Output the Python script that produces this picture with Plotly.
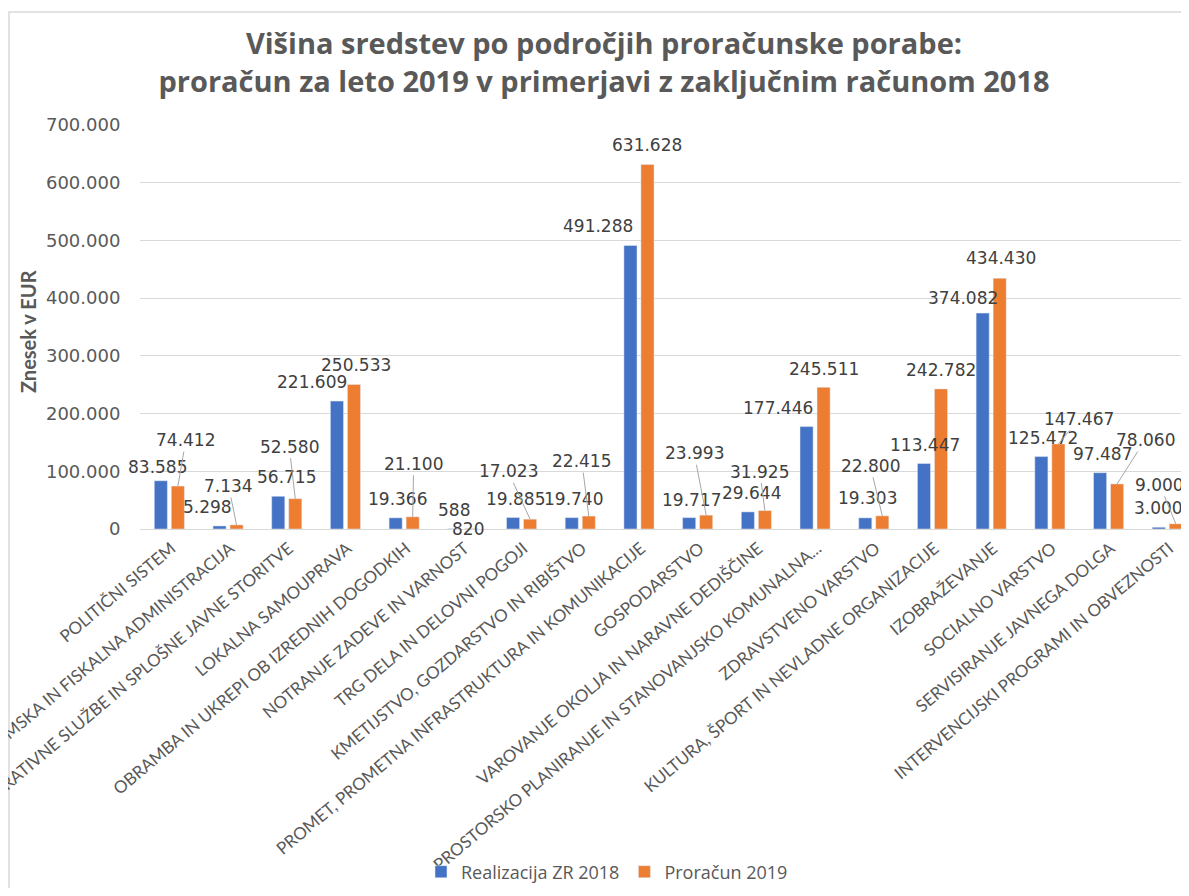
import plotly.graph_objects as go

categories = [
    "POLITIČNI SISTEM",
    "EKONOMSKA IN FISKALNA ADMINISTRACIJA",
    "SKUPNE ADMINISTRATIVNE SLUŽBE IN SPLOŠNE JAVNE STORITVE",
    "LOKALNA SAMOUPRAVA",
    "OBRAMBA IN UKREPI OB IZREDNIH DOGODKIH",
    "NOTRANJE ZADEVE IN VARNOST",
    "TRG DELA IN DELOVNI POGOJI",
    "KMETIJSTVO, GOZDARSTVO IN RIBIŠTVO",
    "PROMET, PROMETNA INFRASTRUKTURA IN KOMUNIKACIJE",
    "GOSPODARSTVO",
    "VAROVANJE OKOLJA IN NARAVNE DEDIŠČINE",
    "PROSTORSKO PLANIRANJE IN STANOVANJSKO KOMUNALNA...",
    "ZDRAVSTVENO VARSTVO",
    "KULTURA, ŠPORT IN NEVLADNE ORGANIZACIJE",
    "IZOBRAŽEVANJE",
    "SOCIALNO VARSTVO",
    "SERVISIRANJE JAVNEGA DOLGA",
    "INTERVENCIJSKI PROGRAMI IN OBVEZNOSTI",
]
realizacija_2018 = [83585, 5298, 56715, 221609, 19366, 588, 19885, 19740, 491288,
                    19717, 29644, 177446, 19303, 113447, 374082, 125472, 97487, 3000]
proracun_2019 = [74412, 7134, 52580, 250533, 21100, 820, 17023, 22415, 631628,
                 23993, 31925, 245511, 22800, 242782, 434430, 147467, 78060, 9000]
series_names = ["Realizacija ZR 2018", "Proračun 2019"]
y_ticks = [0, 100000, 200000, 300000, 400000, 500000, 600000, 700000]

# label placement (pixel offsets of label centre from bar top, leader-line flag)
blue_off = [(-3, -14, 0), (-12, -19, 0), (8, -19, 0), (-25, -19, 0), (2, -19, 0), (0, -19, 0),
            (2, -19, 0), (2, -19, 0), (-32, -19, 0), (2, -18, 0), (4, -19, 0), (-29, -19, 0),
            (2, -20, 0), (1, -19, 0), (-20, -15, 0), (2, -19, 0), (2, -19, 0), (0, -19, 0)]
orange_off = [(8, -46, 1), (-8, -39, 1), (-6, -52, 1), (2, -19, 0), (1, -53, 1), (-3, 0, 0),
              (-22, -48, 1), (-7, -55, 1), (0, -19, 0), (-12, -62, 1), (-5, -39, 1), (0, -18, 0),
              (-12, -50, 1), (0, -19, 0), (1, -20, 0), (21, -25, 1), (28, -44, 1), (-16, -39, 1)]

BLUE = "#4472C4"
ORANGE = "#ED7D31"
GRAY = "#595959"

fig = go.Figure()
fig.add_trace(go.Bar(name=series_names[0], x=categories, y=realizacija_2018,
                     marker_color=BLUE, hoverinfo="skip"))
fig.add_trace(go.Bar(name=series_names[1], x=categories, y=proracun_2019,
                     marker_color=ORANGE, hoverinfo="skip"))

OFF = 8  # page body margin
W, H = 1189 - OFF, 896 - 2 * OFF
L, R, T = 140 - OFF, 0, 125 - OFF
B = H - (529 - OFF)
PW, PH = W - L - R, H - T - B
x_range = [-0.5, 17.37]
bargap = 0.42
cat_w = PW / (x_range[1] - x_range[0])
shift = (1 - bargap) * cat_w / 4

def fmt(v):
    return f"{v:,}".replace(",", ".")

annotations = []
for vals, offs, sgn in ((realizacija_2018, blue_off, -1), (proracun_2019, orange_off, 1)):
    for c, v, (ax, ay, line) in zip(categories, vals, offs):
        annotations.append(dict(
            x=c, y=v, xref="x", yref="y", xshift=sgn * shift,
            text=fmt(v), showarrow=True, ax=ax, ay=ay, arrowhead=0, arrowwidth=1,
            arrowcolor="#A6A6A6" if line else "rgba(0,0,0,0)", standoff=0,
            xanchor="center", yanchor="middle",
            font=dict(family="DejaVu Sans", size=17, color="#404040"),
        ))

annotations.append(dict(
    text="Znesek v EUR", textangle=-90, xref="paper", yref="paper",
    x=(28 - OFF - L) / PW, y=0.5 - 5 / PH, showarrow=False, xanchor="center", yanchor="middle",
    font=dict(family="Lato", size=20, color=GRAY, weight="bold"),
))

fig.update_layout(
    width=W, height=H,
    margin=dict(l=L, r=R, t=T, b=B, autoexpand=False),
    paper_bgcolor="white", plot_bgcolor="white",
    separators=",.",
    barmode="group", bargap=bargap, bargroupgap=0.23,
    title=dict(
        text="Višina sredstev po področjih proračunske porabe:<br>proračun za leto 2019 v primerjavi z zaključnim računom 2018",
        x=(604 - OFF) / W, xanchor="center", y=1 - 46 / H, yanchor="middle",
        xref="container", yref="container",
        font=dict(family="Open Sans", size=29, color=GRAY, weight="bold"),
    ),
    xaxis=dict(
        range=x_range,
        tickangle=-40, tickfont=dict(family="Lato", size=17, color=GRAY),
        ticklabelshift=2, ticklabelstandoff=2,
        showline=True, linecolor="#D9D9D9", linewidth=1, showgrid=False,
        ticks="", automargin=False, fixedrange=True,
    ),
    yaxis=dict(
        range=[0, 700000], tickvals=y_ticks, tickformat=",d",
        tickfont=dict(family="DejaVu Sans", size=18, color=GRAY),
        showgrid=True, gridcolor="#D9D9D9", gridwidth=1, zeroline=False,
        ticks="outside", ticklen=15, tickcolor="rgba(0,0,0,0)", automargin=False,
    ),
    legend=dict(
        orientation="h", x=(607 - OFF) / W, xanchor="center", xref="container",
        y=1 - (872 - OFF) / H, yanchor="middle", yref="container",
        bgcolor="rgba(0,0,0,0)",
        font=dict(family="Open Sans", size=18, color=GRAY), traceorder="normal",
    ),
    annotations=annotations,
    shapes=[dict(type="rect", xref="paper", yref="paper",
                 x0=(9 - OFF - L) / PW, x1=1.1, y0=-1.2, y1=1 + (T - (12 - OFF)) / PH,
                 line=dict(color="#D9D9D9", width=1.5), fillcolor="rgba(0,0,0,0)", layer="below")],
    showlegend=True,
)

fig.write_html("out.html")
